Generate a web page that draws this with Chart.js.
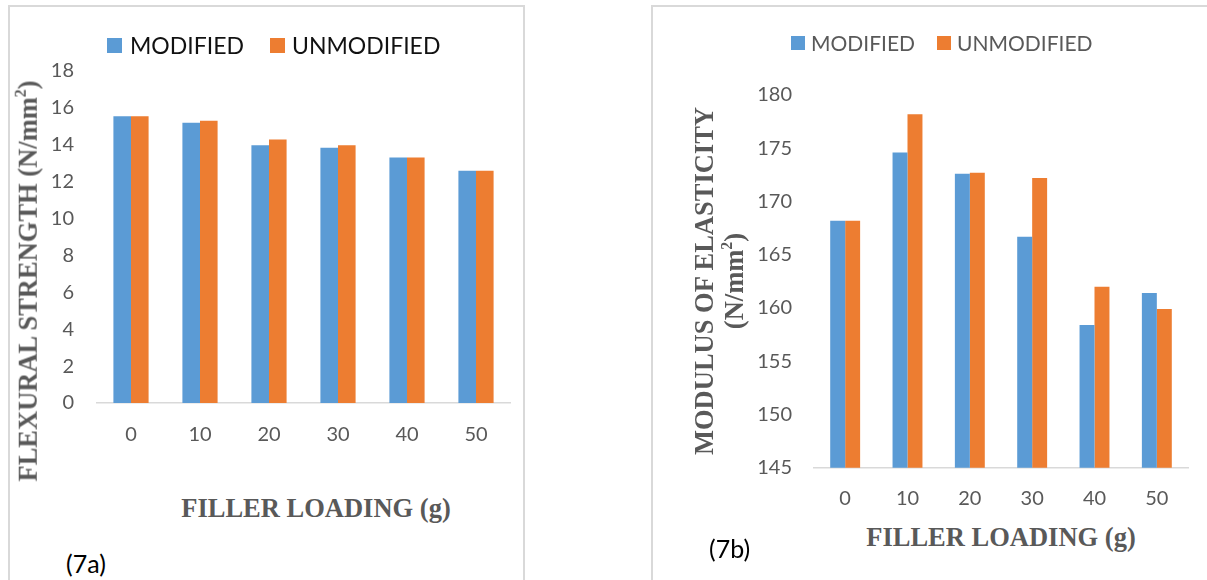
<!DOCTYPE html>
<html>
<head>
<meta charset="utf-8">
<script src="https://cdn.jsdelivr.net/npm/chart.js@4.4.1/dist/chart.umd.min.js"></script>
<style>
  body { margin: 0; width: 1207px; height: 580px; overflow: hidden; background: #fff; position: relative; font-family: Lato, sans-serif; }
  .panel { position: absolute; border: 2px solid #d9d9d9; box-sizing: border-box; }
  canvas { position: absolute; top: 0; }
  .abs { position: absolute; white-space: nowrap; }
  .box { position: absolute; }
  .axis-title { position: absolute; font-family: "Liberation Serif", serif; font-weight: bold; color: #595959; white-space: nowrap; line-height: 1; transform: translate(-50%, -50%); text-align: center; }
  .y-title { transform: translate(-50%, -50%) rotate(-90deg); }
  sup { font-size: 0.6em; line-height: 0; vertical-align: 0.7em; }
</style>
</head>
<body>
  <div class="panel" style="left:8px; top:5px; width:517px; height:600px;"></div>
  <div class="panel" style="left:651px; top:5px; width:600px; height:600px;"></div>

  <canvas id="flexuralChart" width="524" height="470" style="left:0;"></canvas>
  <canvas id="elasticityChart" width="555" height="520" style="left:652px;"></canvas>

  <div id="legendA"></div>
  <div id="legendB"></div>

  <div class="axis-title y-title" style="left:28px; top:281px; font-size:26.5px;">FLEXURAL STRENGTH (N/mm<sup>2</sup>)</div>
  <div class="axis-title" style="left:316px; top:508px; font-size:26.5px;">FILLER LOADING (g)</div>
  <div class="abs" style="left:66px; top:548px; font-size:25px; line-height:30px; color:#000;">(7a)</div>

  <div class="axis-title y-title" style="left:719px; top:281px; font-size:26.5px; line-height:30px;">MODULUS OF ELASTICITY<br>(N/mm<sup>2</sup>)</div>
  <div class="axis-title" style="left:1001px; top:537px; font-size:26.5px;">FILLER LOADING (g)</div>
  <div class="abs" style="left:709px; top:533px; font-size:25px; line-height:30px; color:#000;">(7b)</div>

<script>
// Data
const fillerLoading = ['0', '10', '20', '30', '40', '50'];
const seriesNames = ['MODIFIED', 'UNMODIFIED'];
const flexuralModified = [15.55, 15.2, 13.98, 13.84, 13.31, 12.59];
const flexuralUnmodified = [15.55, 15.3, 14.29, 13.98, 13.31, 12.59];
const flexuralRange = [0, 18, 2];      // min, max, step
const elasticityModified = [168.2, 174.6, 172.6, 166.7, 158.4, 161.4];
const elasticityUnmodified = [168.2, 178.2, 172.7, 172.2, 162.0, 159.9];
const elasticityRange = [145, 180, 5]; // min, max, step

const colors = ['#5B9BD5', '#ED7D31'];

// Legend (html, positioned like the original)
function buildLegend(el, items) {
    items.forEach((it, i) => {
        const box = document.createElement('div');
        box.className = 'box';
        box.style.cssText = `left:${it.boxX}px; top:${it.boxY}px; width:${it.size}px; height:${it.size}px; background:${colors[i]};`;
        const txt = document.createElement('div');
        txt.className = 'abs';
        txt.textContent = seriesNames[i];
        txt.style.cssText = `left:${it.textX}px; top:${it.textY}px; font-size:${it.font}px; line-height:24px; color:${it.color};`;
        el.appendChild(box);
        el.appendChild(txt);
    });
}

buildLegend(document.getElementById('legendA'), [
    { boxX: 107, boxY: 38, size: 15, textX: 130, textY: 33, font: 23, color: '#111' },
    { boxX: 270, boxY: 38, size: 15, textX: 292, textY: 33, font: 23, color: '#111' }
]);
buildLegend(document.getElementById('legendB'), [
    { boxX: 791, boxY: 36, size: 14, textX: 811, textY: 31, font: 21, color: '#595959' },
    { boxX: 937, boxY: 36, size: 14, textX: 957, textY: 31, font: 21, color: '#595959' }
]);

// Render Chart.js
function renderChart(canvasId, modified, unmodified, range, box) {
    const ctx = document.getElementById(canvasId).getContext('2d');

    return new Chart(ctx, {
        type: 'bar',
        data: {
            labels: fillerLoading,
            datasets: [
                { label: seriesNames[0], data: modified, backgroundColor: colors[0] },
                { label: seriesNames[1], data: unmodified, backgroundColor: colors[1] }
            ]
        },
        options: {
            responsive: false,
            animation: false,
            layout: { padding: { top: box.top, right: box.right, left: 0, bottom: 0 } },
            datasets: { bar: { categoryPercentage: box.catPct, barPercentage: 1 } },
            plugins: {
                legend: { display: false },
                tooltip: { enabled: false }
            },
            scales: {
                x: {
                    grid: { display: false, drawTicks: false },
                    border: { display: true, color: '#d9d9d9', width: 1.5 },
                    ticks: {
                        color: '#595959',
                        font: { family: 'Lato', size: 20 },
                        padding: box.xPad,
                        maxRotation: 0
                    },
                    afterFit: s => { s.height = box.xHeight; }
                },
                y: {
                    min: range[0],
                    max: range[1],
                    grid: { display: false, drawTicks: false },
                    border: { display: false },
                    ticks: {
                        stepSize: range[2],
                        color: '#595959',
                        font: { family: 'Lato', size: 20 },
                        padding: box.yPad
                    },
                    afterFit: s => { s.width = box.yWidth; }
                }
            }
        }
    });
}

renderChart('flexuralChart', flexuralModified, flexuralUnmodified, flexuralRange,
    { top: 71, right: 13.5, yWidth: 96.5, xHeight: 67, yPad: 22.5, xPad: 20, catPct: 0.51 });

renderChart('elasticityChart', elasticityModified, elasticityUnmodified, elasticityRange,
    { top: 95, right: 19, yWidth: 162, xHeight: 52.3, yPad: 22, xPad: 19.3, catPct: 0.48 });
</script>
</body>
</html>
